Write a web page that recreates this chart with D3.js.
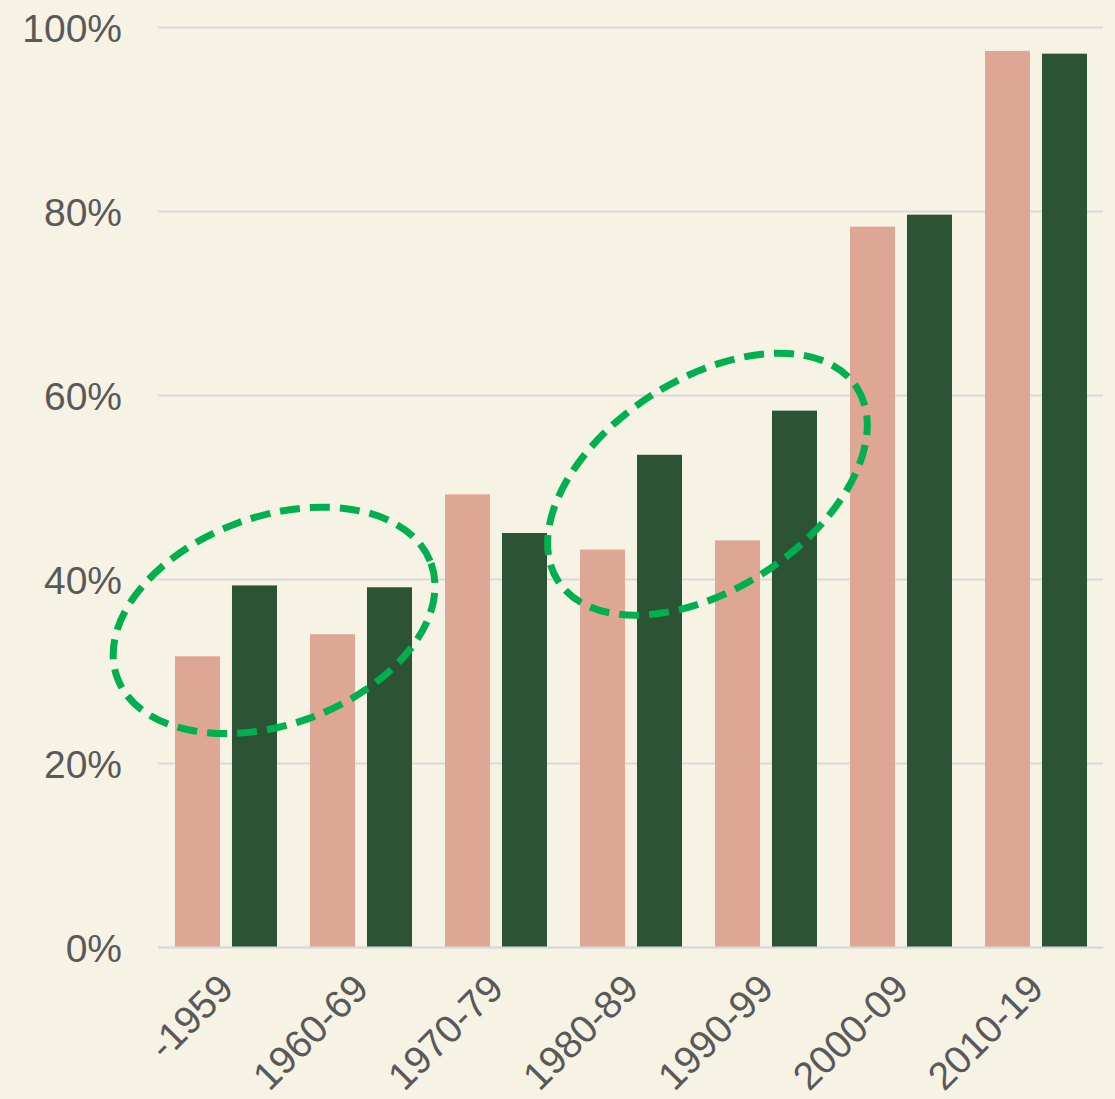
<!DOCTYPE html>
<meta charset="utf-8">
<script src="https://d3js.org/d3.v7.min.js"></script>
<style>
  body { margin: 0; background: #f6f2e4; }
  .tick text { font-family: "Liberation Sans", Arial, sans-serif; fill: #595959; }
</style>
<svg></svg>
<script>

// DATA

var decades = ["-1959", "1960-69", "1970-79", "1980-89", "1990-99", "2000-09", "2010-19"];
var seriesA = [31.6, 34.0, 49.2, 43.2, 44.2, 78.3, 97.4];   // pink
var seriesB = [39.3, 39.1, 45.0, 53.5, 58.3, 79.6, 97.1];   // dark green
var yTicks = [0, 20, 40, 60, 80, 100];

// highlight rings: decade they start in, centre (in bands from that decade), centre value, radii, tilt
var rings = [
  { from: "-1959", at: 0.86, value: 35.5, rx: 167, ry: 104, angle: -20 },
  { from: "1980-89", at: 1.07, value: 50.3, rx: 178, ry: 105, angle: -33 }
];

// GLOBALS

var width = 1115;
var height = 1099;

var margin = { top: 27, left: 158, right: 12, bottom: 152 };

var colors = ["#dea795", "#2c5334"];

var svg = d3.select("svg")
    .attr("width", width)
    .attr("height", height);

svg.append("rect")
    .attr("width", width)
    .attr("height", height)
    .attr("fill", "#f6f2e4");

var x = d3.scaleBand()
    .domain(decades)
    .range([margin.left, width - margin.right]);

var x1 = d3.scaleBand()
    .domain([0, 1])
    .range([17, x.bandwidth() - 16])
    .paddingInner(0.21);

var y = d3.scaleLinear()
    .domain([0, 100])
    .range([height - margin.bottom, margin.top]);

// GRID + Y AXIS

var yAxis = svg.append("g")
    .attr("transform", "translate(" + margin.left + ",0)")
    .call(d3.axisLeft(y)
        .tickValues(yTicks)
        .tickSize(-(width - margin.left - margin.right))
        .tickPadding(36)
        .tickFormat(function(d) { return d + "%"; }));

yAxis.select(".domain").remove();
yAxis.selectAll(".tick line")
    .attr("stroke", "#d9d9d9")
    .attr("stroke-width", 2);
yAxis.selectAll(".tick text")
    .style("font-size", "39px")
    .attr("dy", "0.36em");

// BARS

var groups = svg.append("g")
    .selectAll("g")
    .data(decades)
    .enter()
    .append("g")
    .attr("transform", function(d) { return "translate(" + x(d) + ",0)"; });

groups.selectAll("rect")
    .data(function(d, i) { return [seriesA[i], seriesB[i]]; })
    .enter()
    .append("rect")
    .attr("x", function(d, j) { return x1(j); })
    .attr("width", x1.bandwidth())
    .attr("y", function(d) { return y(d); })
    .attr("height", function(d) { return y(0) - y(d); })
    .attr("fill", function(d, j) { return colors[j]; });

// X AXIS

var xAxis = svg.append("g")
    .attr("transform", "translate(0," + y(0) + ")")
    .call(d3.axisBottom(x).tickSize(0).tickPadding(0));

xAxis.select(".domain")
    .attr("stroke", "#d9d9d9")
    .attr("stroke-width", 2);

xAxis.selectAll(".tick text")
    .style("font-size", "39px")
    .style("text-anchor", "end")
    .attr("dy", 0)
    .attr("transform", "translate(10,44) rotate(-45)");

// RINGS

svg.append("g")
    .selectAll("ellipse")
    .data(rings)
    .enter()
    .append("ellipse")
    .attr("transform", function(d) {
        var cx = x(d.from) + d.at * x.bandwidth();
        return "translate(" + cx + "," + y(d.value) + ") rotate(" + d.angle + ")";
    })
    .attr("rx", function(d) { return d.rx; })
    .attr("ry", function(d) { return d.ry; })
    .attr("fill", "none")
    .attr("stroke", "#00b050")
    .attr("stroke-width", 7)
    .attr("stroke-dasharray", "20,10");

</script>
